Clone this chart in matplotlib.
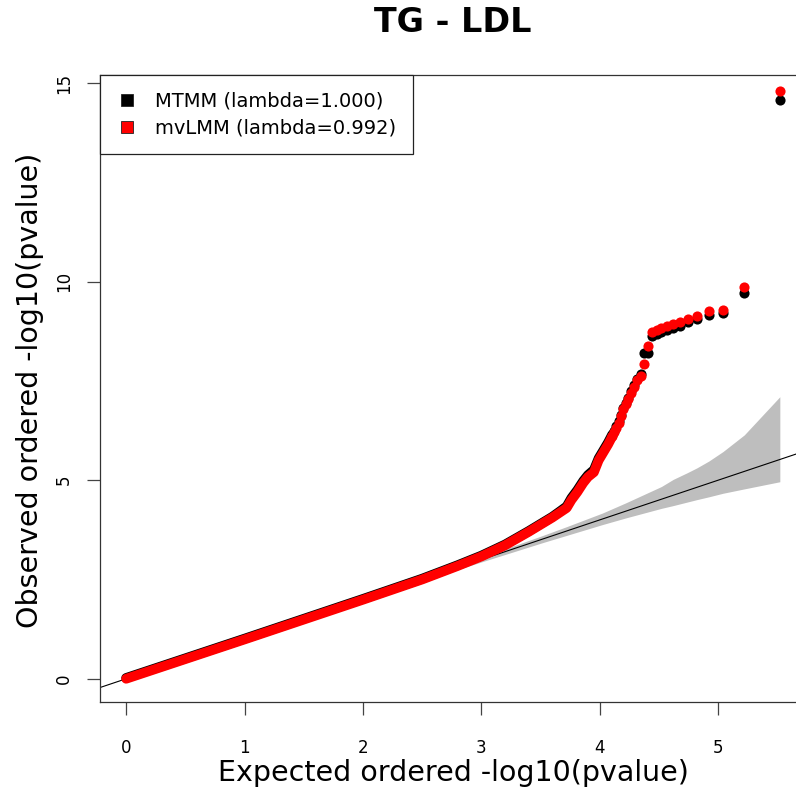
import matplotlib
matplotlib.use("Agg")
import matplotlib.pyplot as plt
from matplotlib.lines import Line2D

plt.rcParams['font.family'] = ['DejaVu Sans']

title = "TG - LDL"
xlabel = "Expected ordered -log10(pvalue)"
ylabel = "Observed ordered -log10(pvalue)"
series_names = ["MTMM (lambda=1.000)", "mvLMM (lambda=0.992)"]
series_colors = ["black", "#FF0000"]
xticks = [0, 1, 2, 3, 4, 5]
yticks = [0, 5, 10, 15]

# dense body of the QQ curve (expected, observed)
body_x = [0.0, 1.0, 2.0, 2.5, 2.8, 3.0, 3.2, 3.4, 3.5, 3.6, 3.67, 3.72, 3.76,
          3.81, 3.86, 3.90, 3.95, 3.99, 4.03, 4.07, 4.105]
body_mtmm = [0.02, 1.01, 2.01, 2.52, 2.86, 3.10, 3.38, 3.72, 3.90, 4.08, 4.23,
             4.34, 4.55, 4.75, 4.98, 5.13, 5.26, 5.55, 5.75, 5.95, 6.15]
body_mvlmm = [0.0, 0.99, 1.99, 2.50, 2.84, 3.08, 3.36, 3.70, 3.88, 4.06, 4.20,
              4.30, 4.50, 4.70, 4.93, 5.08, 5.20, 5.50, 5.70, 5.90, 6.10]

# individual top-ranked points
tail_x = [5.520, 5.219, 5.043, 4.918, 4.821, 4.742, 4.675, 4.617, 4.566, 4.520,
          4.479, 4.441, 4.406, 4.374, 4.344, 4.316, 4.290, 4.265, 4.241, 4.219,
          4.198, 4.178, 4.158, 4.140, 4.122, 4.105]
tail_mtmm = [14.57, 9.72, 9.20, 9.16, 9.06, 8.98, 8.89, 8.83, 8.79, 8.74,
             8.69, 8.63, 8.21, 8.19, 7.66, 7.55, 7.39, 7.24, 7.08, 6.95,
             6.81, 6.65, 6.49, 6.36, 6.25, 6.14]
tail_mvlmm = [14.80, 9.87, 9.29, 9.25, 9.14, 9.06, 8.97, 8.92, 8.88, 8.83,
              8.78, 8.72, 8.37, 7.93, 7.62, 7.52, 7.35, 7.20, 7.05, 6.92,
              6.78, 6.62, 6.45, 6.32, 6.22, 6.10]

# 95% confidence band
band_x = [2.0, 2.52, 3.02, 3.52, 3.72, 4.02, 4.22, 4.52, 4.62, 4.74, 4.82,
          4.92, 5.04, 5.22, 5.52]
band_hi = [2.02, 2.56, 3.08, 3.61, 3.83, 4.17, 4.43, 4.84, 5.02, 5.19, 5.31,
           5.48, 5.72, 6.14, 7.10]
band_lo = [1.98, 2.48, 2.96, 3.43, 3.61, 3.88, 4.05, 4.29, 4.36, 4.45, 4.51,
           4.58, 4.67, 4.78, 4.96]

W, H = 796, 795
fig = plt.figure(figsize=(W / 100, H / 100), dpi=100)
ax = fig.add_axes([100 / W, 1 - 702 / H, 706 / W, 627 / H])
ax.set_xlim(-0.2208, 5.741)
ax.set_ylim(-0.585, 15.2)

ax.fill_between(band_x, band_lo, band_hi, color="#BEBEBE", linewidth=0, zorder=1)
ax.axline((0, 0), slope=1, color="black", linewidth=0.8, zorder=2)

lw = 7.0
bodies = [body_mtmm, body_mvlmm]
tails = [tail_mtmm, tail_mvlmm]
for body, tail, col, z in zip(bodies, tails, series_colors, [3, 4]):
    ax.plot(body_x, body, color=col, linewidth=lw, solid_capstyle="round",
            solid_joinstyle="round", zorder=z)
    ax.scatter(tail_x, tail, s=7.3 ** 2, color=col, linewidths=0, zorder=z)

for s in ax.spines.values():
    s.set_linewidth(0.9)
    s.set_color("#333333")

ax.set_xticks(xticks)
ax.set_yticks(yticks)
ax.set_xticklabels([str(t) for t in xticks])
ax.set_yticklabels([str(t) for t in yticks], rotation=90, va="center")
ax.tick_params(axis="x", length=9.5, width=0.9, color="#444444", pad=17, labelsize=12)
ax.tick_params(axis="y", length=9.5, width=0.9, color="#444444", pad=10, labelsize=12)

handles = [Line2D([0], [0], marker="s", linestyle="none", markersize=8,
                  markerfacecolor=c, markeredgecolor="#222222", markeredgewidth=0.6)
           for c in series_colors]
leg = ax.legend(handles, series_names, loc="upper left", bbox_to_anchor=(0, 1),
                borderaxespad=0, fontsize=14, frameon=True, fancybox=False,
                edgecolor="#222222", framealpha=1, borderpad=0.85,
                handlelength=1.1, handletextpad=0.9, labelspacing=0.41)
leg.get_frame().set_linewidth(0.9)

fig.text(453 / W, 1 - 23 / H, title, ha="center", va="center",
         fontsize=24, fontweight="bold")
fig.text(453 / W, 1 - 773 / H, xlabel, ha="center", va="center", fontsize=20.5)
fig.text(30 / W, 1 - 390 / H, ylabel, ha="center", va="center", fontsize=20.5,
         rotation=90)

fig.savefig("out.png", dpi=100)
